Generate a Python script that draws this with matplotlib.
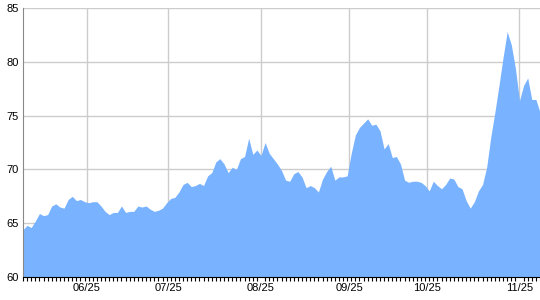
import numpy as np
import matplotlib
matplotlib.use("Agg")
import matplotlib.pyplot as plt

# daily values, one per trading day
values = [
    64.4, 64.8, 64.6, 65.2, 65.9, 65.7, 65.8, 66.6, 66.8, 66.5,
    66.4, 67.2, 67.5, 67.1, 67.2, 67.0, 66.9, 67.0, 67.0, 66.6,
    66.1, 65.8, 66.0, 66.0, 66.6, 66.0, 66.1, 66.1, 66.6, 66.5,
    66.6, 66.3, 66.1, 66.2, 66.4, 66.9, 67.3, 67.4, 67.9, 68.6,
    68.8, 68.4, 68.5, 68.7, 68.5, 69.4, 69.7, 70.7, 71.0, 70.5,
    69.7, 70.2, 70.0, 71.0, 71.2, 72.9, 71.4, 71.8, 71.3, 72.5,
    71.5, 71.0, 70.5, 69.9, 69.0, 68.9, 69.6, 69.8, 69.3, 68.3,
    68.5, 68.3, 67.9, 69.1, 69.8, 70.3, 69.0, 69.3, 69.3, 69.4,
    71.5, 73.2, 73.9, 74.3, 74.7, 74.1, 74.2, 73.6, 71.9, 72.4,
    71.1, 71.2, 70.5, 69.0, 68.8, 68.9, 68.9, 68.8, 68.5, 68.0,
    68.9, 68.5, 68.2, 68.6, 69.2, 69.1, 68.4, 68.2, 67.1, 66.4,
    67.0, 68.0, 68.6, 70.2, 73.0, 75.3, 77.8, 80.4, 82.8, 81.6,
    79.4, 76.4, 77.8, 78.5, 76.5, 76.5, 75.3,
]
month_labels = ["06/25", "07/25", "08/25", "09/25", "10/25", "11/25"]
month_pos = [15.6, 35.4, 58.0, 79.5, 98.5, 121.0]
y_ticks = [60, 65, 70, 75, 80, 85]

plt.rcParams["font.family"] = ["Liberation Sans", "DejaVu Sans"]

fig = plt.figure(figsize=(5.4, 3.0), dpi=100)
ax = fig.add_axes([23 / 540, 23 / 300, 517 / 540, 269 / 300])

x = np.arange(len(values))
ax.fill_between(x, values, 60, color="#79b3ff", linewidth=0, zorder=2)

ax.set_xlim(0, len(values) - 1)
ax.set_ylim(60, 85)

ax.set_yticks(y_ticks)
ax.set_yticklabels([str(v) for v in y_ticks], fontsize=8)
ax.tick_params(axis="y", length=0, pad=3)

ax.set_xticks(month_pos)
ax.set_xticklabels(month_labels, fontsize=8)
ax.set_xticks(x, minor=True)
ax.tick_params(axis="x", which="major", length=0, pad=4)
ax.tick_params(axis="x", which="minor", length=3, width=0.8, color="black", direction="out")

ax.grid(True, which="major", color="#cccccc", linewidth=1, zorder=0)
ax.set_axisbelow(True)

for s in ["top", "right"]:
    ax.spines[s].set_visible(False)
ax.spines["left"].set_color("#888888")
ax.spines["bottom"].set_color("black")

fig.savefig("out.png", dpi=100)
